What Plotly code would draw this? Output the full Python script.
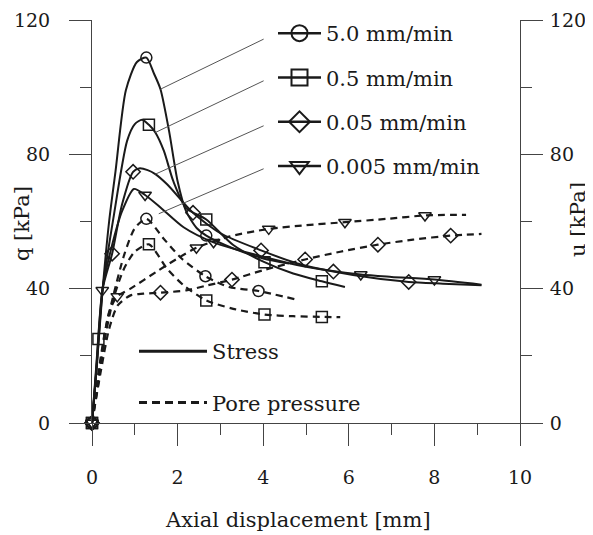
import plotly.graph_objects as go

# ---------------------------------- data ----------------------------------#
# deviator stress q (solid lines)
stress_50_x = [0, 0.1, 0.25, 0.4, 0.55, 0.79, 1.05, 1.27, 1.45, 1.6, 1.8, 2.0, 2.2, 2.45, 2.67, 3.3, 4.0, 4.6]
stress_50_y = [0, 15, 40, 60, 75, 99, 107.5, 108.8, 104, 99.4, 87, 72, 63, 58, 55.8, 52, 49, 47.5]
stress_05_x = [0, 0.1, 0.25, 0.5, 0.82, 1.0, 1.17, 1.33, 1.48, 1.68, 1.9, 2.2, 2.67, 3.3, 4.03, 4.7, 5.37, 5.91]
stress_05_y = [0, 15, 40, 61, 84, 89, 90.3, 88.8, 86.5, 81, 72, 64, 60.6, 53, 47.9, 44.5, 42.2, 40.5]
stress_005_x = [0, 0.1, 0.25, 0.47, 0.7, 0.96, 1.1, 1.3, 1.48, 1.76, 2.36, 3.0, 3.95, 4.8, 5.64, 6.5, 7.4, 8.2, 9.1]
stress_005_y = [0, 16, 40, 50.4, 65, 74.8, 75.8, 75.3, 74.1, 71, 62.6, 56.5, 51.4, 47.5, 45.1, 43.3, 42.0, 41.5, 41]
stress_0005_x = [0, 0.1, 0.24, 0.45, 0.7, 0.98, 1.24, 1.6, 2.14, 2.84, 4.0, 5.0, 6.28, 7.0, 8.0, 9.1]
stress_0005_y = [0, 17, 39.5, 52, 63, 69.7, 67.9, 64.2, 58.3, 53.8, 49.5, 46.5, 44.2, 43.5, 42.7, 41.2]

# pore pressure u (dashed lines)
pore_50_x = [0, 0.15, 0.3, 0.5, 0.75, 1.0, 1.27, 1.68, 2.1, 2.65, 3.2, 3.89, 4.76]
pore_50_y = [0, 15, 27, 38, 50, 58, 60.8, 54.8, 48.9, 43.7, 40.5, 39.3, 36.8]
pore_05_x = [0, 0.15, 0.3, 0.5, 0.75, 1.0, 1.33, 1.75, 2.14, 2.67, 3.3, 4.03, 4.7, 5.37, 5.8]
pore_05_y = [0, 12, 25, 37, 46, 51, 53.2, 46, 41, 36.5, 34, 32.3, 31.8, 31.6, 31.5]
pore_005_x = [0, 0.2, 0.4, 0.6, 0.9, 1.2, 1.6, 2.2, 2.7, 3.27, 4.0, 4.98, 5.8, 6.68, 7.5, 8.38, 9.1]
pore_005_y = [0, 15, 28, 35, 38, 38.5, 38.8, 39.5, 41, 42.7, 45.5, 48.7, 51, 53.1, 54.6, 55.8, 56.3]
pore_0005_x = [0, 0.2, 0.4, 0.59, 0.9, 1.5, 2.0, 2.44, 3.2, 4.13, 5.0, 5.91, 6.9, 7.78, 8.74]
pore_0005_y = [0, 18, 33, 37.7, 40, 45, 49, 52.2, 55.5, 57.8, 58.9, 59.8, 60.8, 61.8, 62]

# marker positions along the curves
mk_stress_50_x = [0, 1.27, 2.67]
mk_stress_50_y = [0, 108.8, 55.8]
mk_stress_05_x = [0, 0.15, 1.33, 2.67, 4.03, 5.37]
mk_stress_05_y = [0, 25, 88.8, 60.6, 47.9, 42.2]
mk_stress_005_x = [0, 0.47, 0.96, 2.36, 3.95, 5.64, 7.4]
mk_stress_005_y = [0, 50.4, 74.8, 62.6, 51.4, 45.1, 42.0]
mk_stress_0005_x = [0, 0.24, 1.24, 2.84, 6.28, 8.0]
mk_stress_0005_y = [0, 39.5, 67.9, 53.8, 44.2, 42.7]

mk_pore_50_x = [0, 1.27, 2.65, 3.89]
mk_pore_50_y = [0, 60.8, 43.7, 39.3]
mk_pore_05_x = [0, 1.33, 2.67, 4.03, 5.37]
mk_pore_05_y = [0, 53.2, 36.5, 32.3, 31.6]
mk_pore_005_x = [0, 1.6, 3.27, 4.98, 6.68, 8.38]
mk_pore_005_y = [0, 38.8, 42.7, 48.7, 53.1, 55.8]
mk_pore_0005_x = [0, 0.59, 2.44, 4.13, 5.91, 7.78]
mk_pore_0005_y = [0, 37.7, 52.2, 57.8, 59.8, 61.8]

rates = ['5.0 mm/min', '0.5 mm/min', '0.05 mm/min', '0.005 mm/min']
symbols = ['circle-open', 'square-open', 'diamond-open', 'triangle-down-open']

# leader lines from curves to legend entries (start x, start y, end x, end y)
leader_x0 = [1.6, 1.48, 1.48, 1.56]
leader_y0 = [99.4, 86.5, 74.1, 62.3]
leader_x1 = [4.01, 4.01, 4.01, 4.01]
leader_y1 = [114.3, 101.9, 88.5, 75.7]

# ---------------------------------- plot ----------------------------------#
INK = '#1a1a1a'
FONT = 'DejaVu Serif'

# page body has an 8px margin, so the figure is drawn 8px right and down
W, H = 593 - 8, 535 - 8
L, T, R, B = 84, 12, 73, 112

stress = [(stress_50_x, stress_50_y), (stress_05_x, stress_05_y),
          (stress_005_x, stress_005_y), (stress_0005_x, stress_0005_y)]
pore = [(pore_50_x, pore_50_y), (pore_05_x, pore_05_y),
        (pore_005_x, pore_005_y), (pore_0005_x, pore_0005_y)]
mk_stress = [(mk_stress_50_x, mk_stress_50_y), (mk_stress_05_x, mk_stress_05_y),
             (mk_stress_005_x, mk_stress_005_y), (mk_stress_0005_x, mk_stress_0005_y)]
mk_pore = [(mk_pore_50_x, mk_pore_50_y), (mk_pore_05_x, mk_pore_05_y),
           (mk_pore_005_x, mk_pore_005_y), (mk_pore_0005_x, mk_pore_0005_y)]

fig = go.Figure()

for x, y in stress:
    fig.add_trace(go.Scatter(x=x, y=y, mode='lines', showlegend=False, cliponaxis=False,
                             line=dict(color=INK, width=2, shape='spline', smoothing=0.7)))
for x, y in pore:
    fig.add_trace(go.Scatter(x=x, y=y, mode='lines', showlegend=False, cliponaxis=False,
                             line=dict(color=INK, width=2.2, dash='7px,5px', shape='spline', smoothing=0.7)))
for i in range(4):
    for x, y in (mk_stress[i], mk_pore[i]):
        fig.add_trace(go.Scatter(x=x, y=y, mode='markers', showlegend=False, cliponaxis=False,
                                 marker=dict(symbol=symbols[i], size=11, color=INK,
                                             line=dict(width=1.5, color=INK))))

# legend entries (no data)
for i in range(4):
    fig.add_trace(go.Scatter(x=[None], y=[None], mode='lines+markers', name=rates[i],
                             legend='legend', legendgroup=rates[i],
                             line=dict(color=INK, width=2.5),
                             marker=dict(symbol=symbols[i], size=16, color=INK,
                                         line=dict(width=2, color=INK))))
fig.add_trace(go.Scatter(x=[None], y=[None], mode='lines', name='Stress',
                         legend='legend2', legendgroup='s',
                         line=dict(color=INK, width=3)))
fig.add_trace(go.Scatter(x=[None], y=[None], mode='lines', name='Pore pressure',
                         legend='legend2', legendgroup='p',
                         line=dict(color=INK, width=3, dash='8px,5px')))

shapes = []
for i in range(4):
    shapes.append(dict(type='line', xref='x', yref='y',
                       x0=leader_x0[i], y0=leader_y0[i], x1=leader_x1[i], y1=leader_y1[i],
                       line=dict(color='#555', width=1)))


def px(x):  # page pixel -> paper x
    return (x - 8 - L) / (W - L - R)


def py(y):  # page pixel -> paper y
    return (H - B - (y - 8)) / (H - B - T)


axis_common = dict(showline=True, linecolor='#444', linewidth=1, ticks='outside',
                   ticklen=22, tickcolor='#444', tickwidth=1, showgrid=False, zeroline=False,
                   automargin=False, ticklabeloverflow='allow',
                   tickfont=dict(family=FONT, size=19, color=INK))

fig.update_layout(
    width=W, height=H,
    margin=dict(l=L, r=R, t=T, b=B, autoexpand=False),
    plot_bgcolor='white', paper_bgcolor='white',
    xaxis=dict(range=[0, 10], dtick=2, ticklabelstandoff=15,
               minor=dict(ticks='outside', dtick=1, ticklen=11, tickcolor='#444'),
               **axis_common),
    yaxis=dict(range=[0, 120], dtick=40, ticklabelstandoff=15,
               minor=dict(ticks='outside', dtick=20, ticklen=11, tickcolor='#444'),
               **axis_common),
    yaxis2=dict(range=[0, 120], dtick=40, overlaying='y', side='right', anchor='x',
                ticklabelstandoff=3,
                minor=dict(ticks='outside', dtick=20, ticklen=11, tickcolor='#444'),
                **axis_common),
    legend=dict(x=px(273), y=py(13), xanchor='left', yanchor='top',
                bgcolor='rgba(0,0,0,0)', font=dict(family=FONT, size=21, color=INK),
                itemwidth=43, tracegroupgap=14),
    legend2=dict(x=px(134), y=py(331), xanchor='left', yanchor='top',
                 bgcolor='rgba(0,0,0,0)', font=dict(family=FONT, size=21, color=INK),
                 itemwidth=68, tracegroupgap=21),
    shapes=shapes,
    annotations=[
        dict(text='Axial displacement [mm]', xref='paper', yref='paper', x=px(298),
             y=py(520), xanchor='center', yanchor='middle', showarrow=False,
             font=dict(family=FONT, size=21, color=INK)),
        dict(text='q [kPa]', xref='paper', yref='paper', x=px(22), y=py(224),
             xanchor='center', yanchor='middle', showarrow=False, textangle=-90,
             font=dict(family=FONT, size=21, color=INK)),
        dict(text='u [kPa]', xref='paper', yref='paper', x=px(578), y=py(220),
             xanchor='center', yanchor='middle', showarrow=False, textangle=-90,
             font=dict(family=FONT, size=21, color=INK)),
    ],
)

# attach a hidden trace to y2 so the right axis is drawn
fig.add_trace(go.Scatter(x=[None], y=[None], yaxis='y2', showlegend=False))

fig.write_html("out.html")
